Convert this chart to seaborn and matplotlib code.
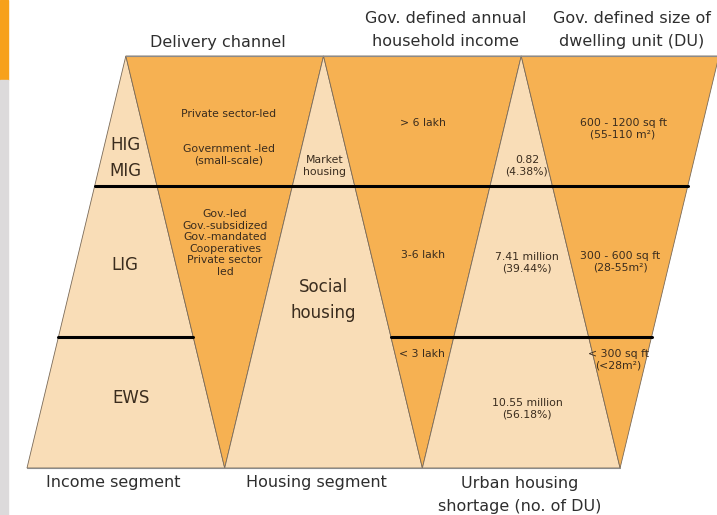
import numpy as np
import matplotlib.pyplot as plt
import seaborn as sns
from matplotlib.patches import Rectangle

# Content of the diagram
headers = ["Delivery channel", "Gov. defined annual\nhousehold income",
           "Gov. defined size of\ndwelling unit (DU)"]
footers = ["Income segment", "Housing segment", "Urban housing\nshortage (no. of DU)"]
income_groups = ["EWS", "LIG", "HIG\nMIG"]           # bottom -> top
delivery_top = ["Private sector-led", "Government -led\n(small-scale)"]
delivery_low = "Gov.-led\nGov.-subsidized\nGov.-mandated\nCooperatives\nPrivate sector\nled"
housing_types = ["Social\nhousing", "Market\nhousing"]
income_ranges = ["< 3 lakh", "3-6 lakh", "> 6 lakh"]
shortage_value = ["10.55", "7.41", "0.82"]
shortage_unit = [" million", " million", ""]
shortage_pct = [56.18, 39.44, 4.38]
du_sizes = ["< 300 sq ft\n(<28m\u00b2)", "300 - 600 sq ft\n(28-55m\u00b2)",
            "600 - 1200 sq ft\n(55-110 m\u00b2)"]
level_cuts = [0.318, 0.684]   # share of band height where the black dividers sit

LIGHT = "#F9DDB7"
DARK = "#F6B152"
EDGE = "#7a6a58"
INK = "#3a2c1e"
HEAD = "#2e2e2e"

sns.set_theme(style="white")
plt.rcParams['font.family'] = ['DejaVu Sans']

fig = plt.figure(figsize=(7.17, 5.15), dpi=100)
ax = fig.add_axes([0, 0, 1, 1])
ax.set_xlim(0, 717)
ax.set_ylim(515, 0)
ax.axis("off")

# band geometry (pixels)
x0, w = 27, 197.7
y_top, y_bot = 56, 468
H = y_bot - y_top

def px(u):
    return x0 + w * u

def py(v):
    return y_bot - H * v

# light triangles point up, dark triangles point down
for i in range(3):
    ax.fill([px(i), px(i + 0.5), px(i + 1)], [py(0), py(1), py(0)],
            color=LIGHT, ec=EDGE, lw=0.6, zorder=1)
    ax.fill([px(i + 0.5), px(i + 1.5), px(i + 1)], [py(1), py(1), py(0)],
            color=DARK, ec=EDGE, lw=0.6, zorder=1)
ax.plot([px(0.5), px(3.5)], [py(1), py(1)], color="#8a8a8a", lw=0.8, zorder=2)
ax.plot([px(0), px(3)], [py(0), py(0)], color="#8a8a8a", lw=0.8, zorder=2)

# black dividers between income levels
lo, hi = level_cuts
ax.plot([px(0.5 * hi), px(3 + 0.5 * hi)], [py(hi), py(hi)], color="black", lw=2.2, zorder=3)
ax.plot([px(0.5 * lo), px(1 - 0.5 * lo)], [py(lo), py(lo)], color="black", lw=2.2, zorder=3)
ax.plot([px(2 - 0.5 * lo), px(3 + 0.5 * lo)], [py(lo), py(lo)], color="black", lw=2.2, zorder=3)

# headers and footers
hfont = dict(fontsize=11.5, color=HEAD, ha="center", va="center", linespacing=1.7)
ax.text(218, 43, headers[0], **hfont)
ax.text(446, 30, headers[1], **hfont)
ax.text(632, 30, headers[2], **hfont)
ax.text(113, 483, footers[0], **hfont)
ax.text(316, 483, footers[1], **hfont)
ax.text(520, 495, footers[2], **hfont)

big = dict(fontsize=12, color=INK, ha="center", va="center", linespacing=1.55)
small = dict(fontsize=7.8, color=INK, ha="center", va="center", linespacing=1.2)

# income segment
ax.text(131, 398, income_groups[0], **big)
ax.text(125, 265, income_groups[1], **big)
ax.text(125, 158, income_groups[2], **big)

# delivery channel
ax.text(229, 114, delivery_top[0], **small)
ax.text(229, 155, delivery_top[1], **small)
ax.text(225, 243, delivery_low, **small)

# housing segment
ax.text(323, 300, housing_types[0], **big)
ax.text(325, 166, housing_types[1], **small)

# annual household income
ax.text(422, 354, income_ranges[0], **small)
ax.text(423, 255, income_ranges[1], **small)
ax.text(423, 123, income_ranges[2], **small)

# urban housing shortage
for yy, val, unit, pct in zip([409, 263, 166], shortage_value, shortage_unit, shortage_pct):
    ax.text(527, yy, f"{val}{unit}\n({pct:.2f}%)", **small)

# dwelling unit size
ax.text(618, 360, du_sizes[0], **small)
ax.text(620, 262, du_sizes[1], **small)
ax.text(623, 129, du_sizes[2], **small)

# slide decoration on the left edge
fig.patches.append(Rectangle((0, 1 - 80 / 515), 8 / 717, 80 / 515,
                             transform=fig.transFigure, color="#F7A11B", zorder=0))
fig.patches.append(Rectangle((0, 0), 8 / 717, 1 - 80 / 515,
                             transform=fig.transFigure, color="#dcdadb", zorder=0))

fig.savefig("out.png", dpi=100)
